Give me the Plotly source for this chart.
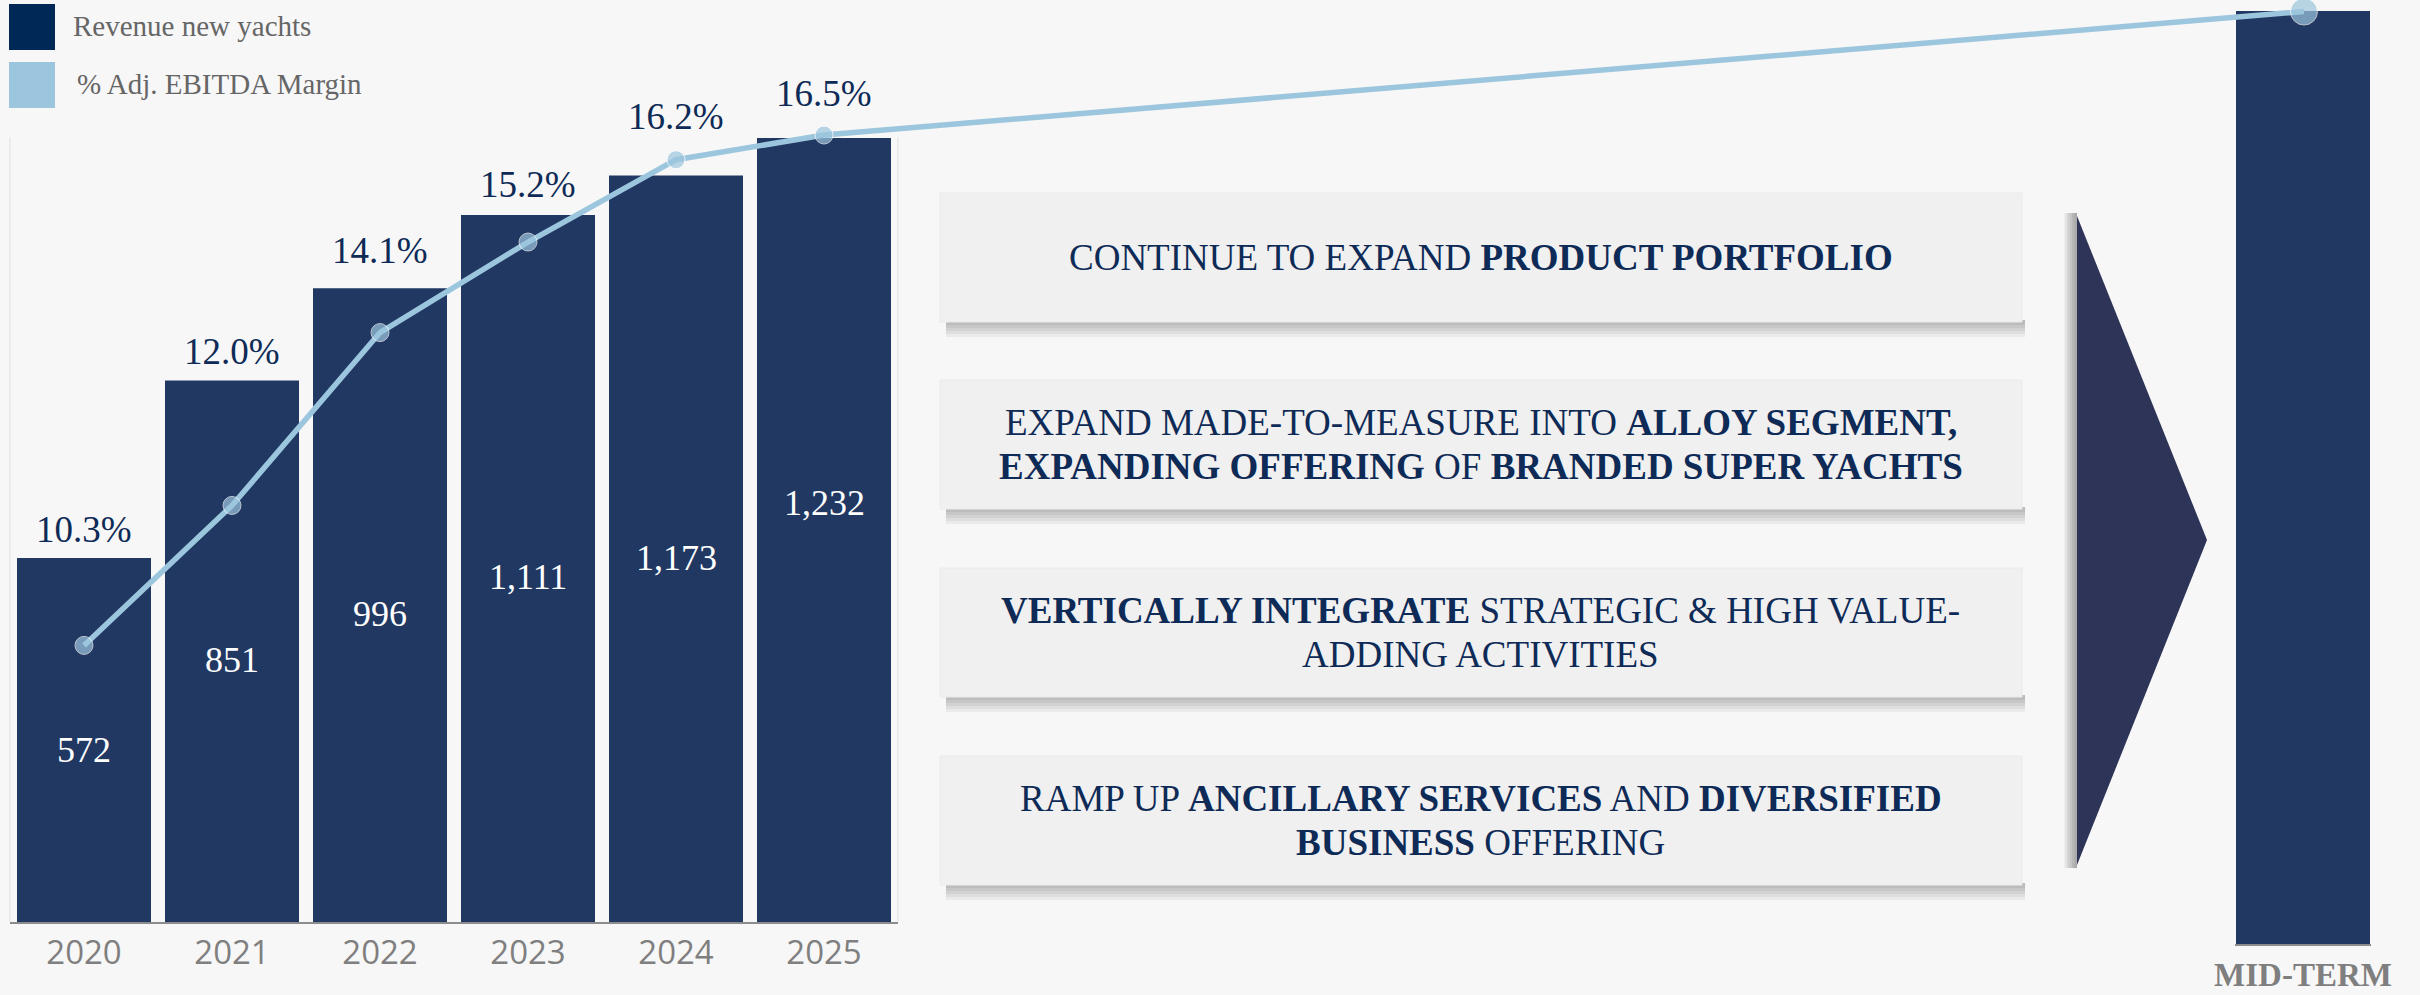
import plotly.graph_objects as go

# ---- data -------------------------------------------------------------
years = ["2020", "2021", "2022", "2023", "2024", "2025"]
revenue = [572, 851, 996, 1111, 1173, 1232]            # revenue new yachts
ebitda_margin = [10.3, 12.0, 14.1, 15.2, 16.2, 16.5]   # % adj. EBITDA margin
midterm_label = "MID-TERM"
midterm_revenue = 1466
midterm_margin = 18.0
legend_labels = ["Revenue new yachts", "% Adj. EBITDA Margin"]
strategy_lines = [
    ["CONTINUE TO EXPAND <b>PRODUCT PORTFOLIO</b>"],
    ["EXPAND MADE-TO-MEASURE INTO <b>ALLOY SEGMENT,</b>",
     "<b>EXPANDING OFFERING</b> OF <b>BRANDED SUPER YACHTS</b>"],
    ["<b>VERTICALLY INTEGRATE</b> STRATEGIC &amp; HIGH VALUE-",
     "ADDING ACTIVITIES"],
    ["RAMP UP <b>ANCILLARY SERVICES</b> AND <b>DIVERSIFIED</b>",
     "<b>BUSINESS</b> OFFERING"],
]

# ---- layout constants (pixels) -----------------------------------------
W, H = 2420, 995
BG = "#F7F7F7"
BAR = "#213863"
LEGEND_NAVY = "#002856"
LIGHT = "#9CC6DE"
TEXT_NAVY = "#0E2A56"
ARROW = "#2E3457"
GREY = "#7F7F7F"
SERIF = "Liberation Serif"

PX_PER_UNIT = 0.6364        # bar scale
BASE_Y = 922                # baseline of the yearly bars
MID_BASE_Y = 944            # baseline of the mid-term bar
SLOT = 148                  # horizontal pitch of one year
FIRST_X = 84                # centre of the first year
MID_SLOT = 15               # slot index of the mid-term column
pct_label_lift = [28, 29, 38, 30, 59, 44]       # px above bar top
value_label_drop = [10, 9, 9, 9, 9, -27]        # px below bar middle


def fx(p):
    return p / W


def fy(p):
    return 1 - p / H


fig = go.Figure()

fig.add_trace(go.Bar(
    x=years, y=revenue, xaxis="x", yaxis="y",
    marker=dict(color=BAR, line=dict(width=0)),
    width=134 / SLOT, hoverinfo="skip", showlegend=False,
))

fig.add_trace(go.Bar(
    x=[midterm_label], y=[midterm_revenue], xaxis="x2", yaxis="y3",
    marker=dict(color=BAR, line=dict(width=0)),
    width=134 / 136, hoverinfo="skip", showlegend=False,
))

fig.add_trace(go.Scatter(
    x=list(range(len(years))) + [MID_SLOT],
    y=ebitda_margin + [midterm_margin],
    xaxis="x3", yaxis="y2",
    mode="lines+markers",
    line=dict(color=LIGHT, width=5.5),
    marker=dict(color=LIGHT, size=[18] * len(years) + [27]),
    hoverinfo="skip", showlegend=False,
))

annotations = []
for i, (rev, m) in enumerate(zip(revenue, ebitda_margin)):
    # revenue value inside the bar
    annotations.append(dict(
        x=i, y=rev / 2, xref="x", yref="y", yshift=-value_label_drop[i],
        text=f"{rev:,}", showarrow=False, yanchor="middle",
        font=dict(family=SERIF, size=36, color="white"),
    ))
    # margin label above the bar
    annotations.append(dict(
        x=i, y=rev, xref="x", yref="y", yshift=pct_label_lift[i],
        text=f"{m:.1f}%", showarrow=False, yanchor="middle",
        font=dict(family=SERIF, size=37, color=TEXT_NAVY),
    ))

shapes = []

# faint frame of the yearly chart
for xpx in (10, 898):
    shapes.append(dict(type="line", xref="paper", yref="paper",
                       x0=fx(xpx), x1=fx(xpx), y0=fy(137), y1=fy(BASE_Y),
                       line=dict(color="#ECECEC", width=2), layer="below"))

# legend
for i, (label, col) in enumerate(zip(legend_labels, [LEGEND_NAVY, LIGHT])):
    top = 4 + 58 * i
    shapes.append(dict(type="rect", xref="paper", yref="paper",
                       x0=fx(9), x1=fx(55), y0=fy(top + 46), y1=fy(top),
                       fillcolor=col, line=dict(width=0), layer="below"))
    annotations.append(dict(
        x=fx(71 + 4 * i), y=fy(top + 22), xref="paper", yref="paper",
        text=label, showarrow=False, xanchor="left", yanchor="middle",
        font=dict(family=SERIF, size=29, color="#666666"),
    ))

# strategy boxes with soft drop shadow
BOX_X0, BOX_X1, BOX_H = 940, 2022, 129
box_tops = [193, 380, 568, 756]
for top, lines in zip(box_tops, strategy_lines):
    bottom = top + BOX_H
    for k in range(5):
        shapes.append(dict(type="rect", xref="paper", yref="paper",
                           x0=fx(BOX_X0 + 6), x1=fx(BOX_X1 + 3),
                           y0=fy(bottom + 3 * (k + 1)), y1=fy(bottom - 2),
                           fillcolor="rgba(0,0,0,0.05)", line=dict(width=0),
                           layer="below"))
    shapes.append(dict(type="rect", xref="paper", yref="paper",
                       x0=fx(BOX_X0), x1=fx(BOX_X1), y0=fy(bottom), y1=fy(top),
                       fillcolor="#F0F0F0", line=dict(color="#EAEAEA", width=1),
                       layer="below"))
    centre = top + BOX_H / 2
    n = len(lines)
    for j, line in enumerate(lines):
        ypx = centre + (j - (n - 1) / 2) * 44
        annotations.append(dict(
            x=fx((BOX_X0 + BOX_X1) / 2), y=fy(ypx), xref="paper", yref="paper",
            text=line, showarrow=False, xanchor="center", yanchor="middle",
            font=dict(family=SERIF, size=37, color=TEXT_NAVY),
        ))

# arrow head pointing to the mid-term column, with a soft shadow on its left
TRI_X, TRI_TOP, TRI_BOT, TIP_X, TIP_Y = 2077, 216, 865, 2207, 540
for k in range(5):
    shapes.append(dict(type="rect", xref="paper", yref="paper",
                       x0=fx(TRI_X - 2.5 * (k + 1)), x1=fx(TRI_X),
                       y0=fy(TRI_BOT + 3), y1=fy(TRI_TOP - 3),
                       fillcolor="rgba(0,0,0,0.07)", line=dict(width=0),
                       layer="below"))
shapes.append(dict(
    type="path", xref="paper", yref="paper",
    path=(f"M {fx(TRI_X)},{fy(TRI_TOP)} L {fx(TIP_X)},{fy(TIP_Y)} "
          f"L {fx(TRI_X)},{fy(TRI_BOT)} Z"),
    fillcolor=ARROW, line=dict(width=0), layer="below",
))

fig.update_layout(
    width=W, height=H,
    margin=dict(l=0, r=0, t=0, b=0, pad=0, autoexpand=False),
    paper_bgcolor=BG, plot_bgcolor="rgba(0,0,0,0)",
    showlegend=False,
    xaxis=dict(domain=[fx(10), fx(898)], type="category",
               categoryorder="array", categoryarray=years, range=[-0.5, 5.5],
               showline=True, linecolor="#8C8C8C", linewidth=2, ticks="",
               tickfont=dict(family="Open Sans", size=33, color=GREY),
               showgrid=False, zeroline=False, anchor="y", fixedrange=True,
               automargin=False),
    yaxis=dict(domain=[fy(BASE_Y), 1], range=[0, BASE_Y / PX_PER_UNIT],
               visible=False, anchor="x", fixedrange=True, automargin=False),
    xaxis2=dict(domain=[fx(2235), fx(2371)], type="category",
                range=[-0.5, 0.5], showline=True, linecolor="#8C8C8C",
                linewidth=2, ticks="",
                tickfont=dict(family=SERIF, size=33, color=GREY, weight="bold"),
                showgrid=False, zeroline=False, anchor="y3", fixedrange=True,
                automargin=False),
    yaxis3=dict(domain=[fy(MID_BASE_Y), 1],
                range=[0, MID_BASE_Y / PX_PER_UNIT],
                visible=False, anchor="x2", fixedrange=True, automargin=False),
    xaxis3=dict(domain=[0, 1], range=[-FIRST_X / SLOT, (W - FIRST_X) / SLOT],
                visible=False, anchor="y2", fixedrange=True, automargin=False),
    yaxis2=dict(domain=[fy(BASE_Y), 1], range=[6.94, 18.14],
                visible=False, anchor="x3", fixedrange=True, automargin=False),
    shapes=shapes,
    annotations=annotations,
)

fig.write_html("out.html")
